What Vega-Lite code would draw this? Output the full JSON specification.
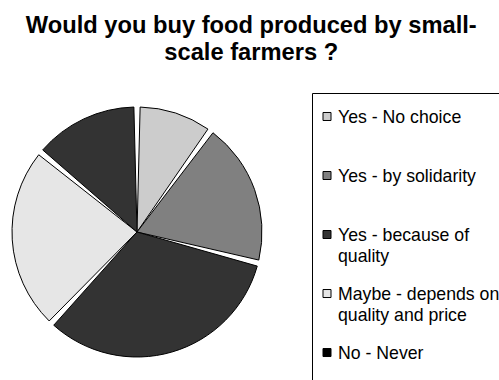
{
  "$schema": "https://vega.github.io/schema/vega-lite/v6.json",
  "padding": {"left": 0, "top": 13, "right": 0, "bottom": 0},
  "background": "white",
  "title": {
    "text": ["Would you buy food produced by small-", "scale farmers ?"],
    "font": "Liberation Sans",
    "fontSize": 23.7,
    "fontWeight": "bold",
    "color": "black",
    "anchor": "middle",
    "lineHeight": 27,
    "offset": 28
  },
  "datasets": {
    "answers": [
      {"answer": "Yes - No choice", "label": "Yes - No choice", "share": 10, "k": 1},
      {"answer": "Yes - by solidarity", "label": "Yes - by solidarity", "share": 19, "k": 2},
      {"answer": "Yes - because of quality", "label": "Yes - because of\nquality", "share": 33, "k": 3},
      {"answer": "Maybe - depends on quality and price", "label": "Maybe - depends on\nquality and price", "share": 24, "k": 4},
      {"answer": "No - Never", "label": "No - Never", "share": 14, "k": 5}
    ]
  },
  "hconcat": [
    {
      "width": 274,
      "height": 278,
      "data": {"name": "answers"},
      "mark": {"type": "arc", "outerRadius": 125, "padAngle": 0.05, "stroke": "black", "strokeWidth": 1},
      "encoding": {
        "theta": {"field": "share", "type": "quantitative", "stack": true},
        "order": {"field": "k", "type": "quantitative"},
        "color": {
          "field": "answer",
          "type": "nominal",
          "scale": {
            "domain": ["Yes - No choice", "Yes - by solidarity", "Yes - because of quality", "Maybe - depends on quality and price", "No - Never"],
            "range": ["#cccccc", "#808080", "#333333", "#e6e6e6", "#333333"]
          },
          "legend": null
        }
      }
    },
    {
      "width": 190,
      "height": 340,
      "data": {"name": "answers"},
      "view": {"stroke": "black", "strokeWidth": 1},
      "encoding": {
        "y": {
          "field": "answer",
          "type": "nominal",
          "scale": {
            "type": "point",
            "domain": ["Yes - No choice", "Yes - by solidarity", "Yes - because of quality", "Maybe - depends on quality and price", "No - Never"],
            "padding": 0.881,
            "align": 0.226
          },
          "axis": null
        }
      },
      "layer": [
        {
          "mark": {"type": "square", "size": 64, "filled": true, "opacity": 1, "stroke": "black", "strokeWidth": 1},
          "encoding": {
            "x": {"value": 15},
            "color": {
              "field": "answer",
              "type": "nominal",
              "scale": {
                "domain": ["Yes - No choice", "Yes - by solidarity", "Yes - because of quality", "Maybe - depends on quality and price", "No - Never"],
                "range": ["#cccccc", "#808080", "#333333", "#e6e6e6", "#000000"]
              },
              "legend": null
            }
          }
        },
        {
          "mark": {"type": "text", "align": "left", "baseline": "alphabetic", "dy": 6.5, "font": "Liberation Sans", "fontSize": 17.7, "lineHeight": 20.7, "lineBreak": "\n", "color": "black"},
          "encoding": {
            "x": {"value": 26},
            "text": {"field": "label", "type": "nominal"}
          }
        }
      ]
    }
  ],
  "spacing": 37,
  "resolve": {"scale": {"color": "independent"}},
  "config": {"view": {"stroke": null}}
}
